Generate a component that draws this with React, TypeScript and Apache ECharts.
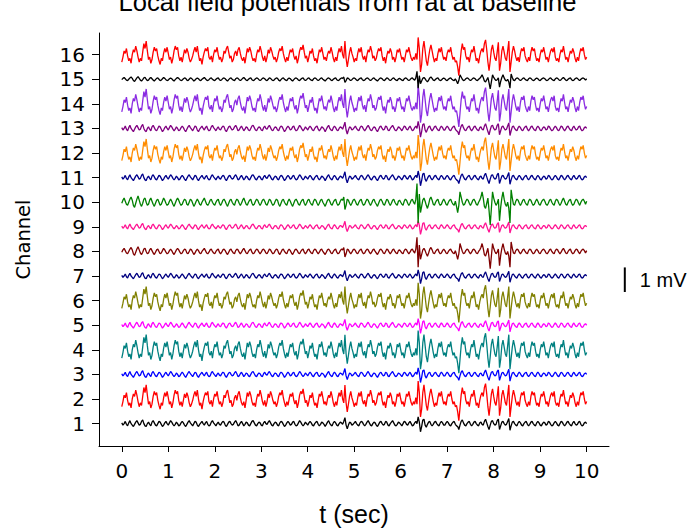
import React, { useEffect, useRef } from 'react';
import * as echarts from 'echarts';

// sampling: 40 samples per second, 0..10 s
const sampleRate = 40;

// hand-estimated waveforms (arbitrary units)
const bigWave = [
  -6,-2,3,1,5,-1,-5,-3,-7,0,4,2,7,3,-2,-6,-3,-5,2,9,5,11,3,-4,-2,-7,-4,2,6,3,5,-1,-5,-8,-3,-5,1,5,2,6,
  1,-4,-2,-7,-3,3,7,4,6,-1,-5,-2,-6,-1,4,1,5,2,-3,-6,-4,-1,3,6,2,7,0,-5,-3,-8,-2,2,5,3,6,-2,-4,-1,-6,0,
  4,2,6,0,-4,-2,-6,-3,3,1,5,7,2,-3,-1,-6,-4,1,3,-1,4,6,1,-3,-5,-2,-7,-1,5,2,6,3,-2,-5,-3,-6,0,4,2,7,
  3,-2,-5,-1,-6,-2,4,1,6,3,-1,-4,-2,-6,-3,2,5,3,7,1,-3,-6,-2,-5,0,4,2,5,-1,-4,-1,-7,-3,3,6,4,8,2,-3,-1,
  -6,-2,3,1,5,-1,-5,-3,-7,-1,4,2,6,1,-4,-2,-5,0,3,1,6,2,-3,-6,-2,-5,1,5,2,7,0,-3,11,-3,-10,-4,2,6,1,-2,
  -6,-3,-5,1,5,2,6,-1,-4,-1,-6,0,4,2,7,3,-3,-1,-5,-3,2,5,3,6,-1,-5,-2,-7,-1,3,1,5,2,-4,-2,-6,-2,4,2,5,
  0,-4,-2,-6,-1,4,2,6,1,-3,-5,-2,-4,1,-4,14,5,-14,-8,5,11,3,-5,-9,-2,4,8,3,-2,-6,-3,-5,1,5,2,6,0,-4,-2,-5,
  1,4,2,6,0,-4,-2,-6,-5,-10,-17,-7,3,9,4,6,-1,-4,-2,-6,0,4,2,7,1,-5,-3,-7,-1,3,5,2,9,12,4,-6,-13,-5,4,8,
  2,-3,-5,2,10,-13,-7,3,7,2,-3,-5,3,11,-14,-6,2,7,3,-2,-5,-2,-6,1,5,3,6,-1,-4,-6,-2,-5,2,6,3,5,-1,-5,-3,-6,
  0,4,2,6,1,-4,-2,-6,-1,3,5,2,6,-2,-5,-3,-6,0,4,2,7,1,-4,-2,-6,-1,3,1,5,2,-3,-6,-2,-5,1,5,3,6,0,-4,
  -2,
];

const smallWave = [
  1,-2,0,3,-1,-3,1,4,0,-2,-4,-1,2,4,1,-2,-1,3,5,0,-3,-4,0,2,-1,-3,2,4,1,-2,-3,0,3,2,-1,-4,-2,1,3,0,
  -2,1,4,2,-1,-3,-1,2,0,-3,-2,1,3,1,-2,-4,-1,2,4,1,-1,-3,0,3,2,-2,-4,-1,1,3,0,-2,1,3,-1,-3,-2,2,4,1,
  -1,-3,0,2,-1,-2,1,3,2,-2,-4,-1,2,3,0,-2,-1,2,4,1,-3,-2,1,3,0,-3,-1,2,1,-2,-3,0,3,4,1,-2,-3,0,2,1,
  -2,-3,1,3,0,-1,2,4,1,-2,-3,0,2,1,-2,-3,1,3,2,-1,-4,-2,1,3,1,-2,-1,2,3,-1,-3,-2,1,4,2,-1,-3,-1,2,0,
  -2,1,3,1,-2,-3,0,2,3,-1,-3,-1,2,1,-1,-4,-1,2,4,0,-2,-3,1,3,1,-2,-3,0,2,1,-1,3,8,-2,-7,-2,2,1,-2,-1,
  1,3,0,-2,-3,1,3,2,-1,-3,-1,2,4,1,-2,-3,0,2,1,-2,-4,-1,2,3,0,-2,-1,3,2,-2,-3,0,2,4,1,-2,-3,-1,2,1,
  -1,-3,0,3,2,-1,-2,1,3,0,-3,-2,1,3,0,9,2,-11,-4,5,6,-2,-5,-1,2,3,-1,-3,-1,2,3,0,-2,-3,1,3,1,-2,-2,1,
  3,1,-2,-3,0,2,3,-1,-3,-4,-8,-2,3,5,1,-2,-3,0,2,3,-1,-3,-1,2,3,0,-2,-3,1,2,-1,-2,3,6,1,-4,-8,-2,3,4,
  0,-2,-1,4,6,-8,-3,2,3,0,-2,-1,3,7,-9,-3,2,3,0,-2,-3,1,3,1,-2,-3,0,2,3,-1,-3,-1,2,3,0,-2,-3,1,3,1,
  -2,-3,0,2,1,-2,-1,3,2,-1,-3,-2,1,3,1,-2,-3,0,3,2,-1,-3,-1,2,3,0,-2,-3,1,3,0,-2,-1,2,3,-1,-3,-2,1,2,
  0,
];

const eventWave = [
  -1,2,4,1,-2,-3,0,3,5,2,-3,-5,-1,3,6,2,-2,-4,-1,3,4,0,-3,-2,2,4,1,-2,-4,-1,2,3,0,-3,-2,1,4,2,-1,-3,
  -2,1,3,1,-2,-4,-1,2,4,2,-1,-3,-2,1,3,2,-2,-3,0,3,2,-1,-4,-2,1,3,1,-2,-3,0,2,4,1,-2,-3,-1,2,3,0,-2,
  -3,0,2,3,-1,-3,-1,2,3,1,-2,-4,-1,2,3,0,-2,-3,1,3,2,-1,-3,-1,2,4,1,-2,-3,0,2,3,-1,-3,-2,1,3,2,-1,-3,
  -1,2,3,1,-2,-3,0,3,2,-1,-3,-2,1,3,2,-2,-4,-1,2,3,0,-2,-3,1,3,1,-2,-4,-1,2,3,1,-2,-3,0,2,3,-1,-3,-1,
  2,3,0,-2,-3,1,3,2,-1,-3,-1,2,3,0,-2,-4,-1,2,3,1,-2,-3,0,2,3,-1,-3,-2,1,3,2,5,-7,-3,3,2,-1,-3,-1,2,
  3,1,-2,-3,0,2,3,-1,-3,-2,1,3,2,-1,-3,-1,2,3,0,-2,-4,-1,2,3,1,-2,-3,0,3,2,-1,-3,-1,2,3,0,-2,-3,1,2,
  0,-2,-3,1,3,2,-1,-3,-1,2,3,0,-2,3,18,-20,8,-10,-4,2,4,1,-3,-6,-2,3,5,2,-2,-3,0,2,3,-1,-3,-2,1,3,1,-2,
  -3,0,2,3,0,-2,-3,1,-4,-10,-3,10,5,0,-3,-2,1,3,2,-1,-3,-1,2,3,1,-2,-3,0,2,5,10,4,-4,-6,-1,4,-8,-22,-6,10,
  4,0,-3,-1,3,-18,-5,4,10,3,-2,-4,0,-6,-20,12,4,-2,-3,1,3,2,-1,-3,-1,2,3,0,-2,-3,1,3,2,-1,-3,-2,1,3,1,-2,
  -3,0,2,3,1,-2,-3,-1,2,3,0,-2,-3,1,3,2,-1,-3,-1,2,4,1,-2,-3,0,2,3,-1,-3,-2,1,3,2,-1,-3,0,2,3,1,-2,
  1,
];

const channels = [1, 2, 3, 4, 5, 6, 7, 8, 9, 10, 11, 12, 13, 14, 15, 16];
const channelColors = [
  '#000000', '#ff0000', '#0000ff', '#008080', '#ff00ff', '#808000', '#000080', '#800000',
  '#ff1493', '#008000', '#00008b', '#ff8c00', '#800080', '#8a2be2', '#000000', '#ff0000',
];
const channelWave = [
  'small', 'big', 'small', 'big', 'small', 'big', 'small', 'event',
  'small', 'event', 'small', 'big', 'small', 'big', 'event', 'big',
];
// mV per waveform unit
const channelGain = [
  0.03, 0.052, 0.03, 0.056, 0.03, 0.052, 0.028, 0.032,
  0.028, 0.042, 0.03, 0.052, 0.032, 0.055, 0.018, 0.05,
];

const xTicks = [0, 1, 2, 3, 4, 5, 6, 7, 8, 9, 10];
const yTicks = channels;

// scale bar: 1 mV
const scaleBarX = 10.82;
const scaleBarFrom = 6.35;
const scaleBarTo = 7.35;
const scaleBarLabel = '1 mV';

const waves: Record<string, number[]> = { big: bigWave, small: smallWave, event: eventWave };

export default function App() {
  const ref = useRef<HTMLDivElement>(null);
  useEffect(() => {
    if (!ref.current) return;
    const chart = echarts.init(ref.current, undefined, { renderer: 'svg' });
    const font = 'Liberation Sans';
    const wide = 'DejaVu Sans';
    const traceSeries = channels.map((ch, i) => {
      const w = waves[channelWave[i]];
      return {
        type: 'line',
        name: 'ch' + ch,
        data: w.map((v, k) => [k / sampleRate, ch + channelGain[i] * v]),
        showSymbol: false,
        symbol: 'none',
        silent: true,
        lineStyle: { color: channelColors[i], width: 1.3 },
        itemStyle: { color: channelColors[i] },
        z: 2,
      };
    });
    chart.setOption({
      animation: false,
      backgroundColor: '#ffffff',
      title: {
        text: 'Local field potentials from rat at baseline',
        left: 'center',
        top: -16,
        textStyle: { fontFamily: font, fontSize: 25.6, fontWeight: 'normal', color: '#000' },
      },
      grid: { left: 99, right: 86, top: 33, bottom: 86, containLabel: false },
      xAxis: {
        type: 'value',
        min: -0.49,
        max: 10.48,
        name: 't (sec)',
        nameLocation: 'middle',
        nameGap: 55,
        nameTextStyle: { fontFamily: font, fontSize: 25, color: '#000' },
        axisLine: { show: true, onZero: false, lineStyle: { color: '#000', width: 1 } },
        axisTick: { show: true, length: 6, customValues: xTicks, lineStyle: { color: '#000' } },
        axisLabel: { customValues: xTicks, margin: 15, fontFamily: wide, fontSize: 20, color: '#000' },
        splitLine: { show: false },
      },
      yAxis: {
        type: 'value',
        min: 0.09,
        max: 16.88,
        name: 'Channel',
        nameLocation: 'middle',
        nameGap: 66,
        nameRotate: 90,
        nameTextStyle: { fontFamily: wide, fontSize: 19.5, color: '#000' },
        axisLine: { show: true, onZero: false, lineStyle: { color: '#000', width: 1 } },
        axisTick: { show: true, length: 7, customValues: yTicks, lineStyle: { color: '#000' } },
        axisLabel: { customValues: yTicks, margin: 14, fontFamily: wide, fontSize: 20, color: '#000' },
        splitLine: { show: false },
      },
      series: traceSeries,
    });
    const p1 = chart.convertToPixel({ gridIndex: 0 }, [scaleBarX, scaleBarFrom]) as number[];
    const p2 = chart.convertToPixel({ gridIndex: 0 }, [scaleBarX, scaleBarTo]) as number[];
    chart.setOption({
      graphic: [
        {
          type: 'line',
          silent: true,
          shape: { x1: p1[0], y1: p1[1], x2: p2[0], y2: p2[1] },
          style: { stroke: '#000', lineWidth: 2 },
        },
        {
          type: 'text',
          silent: true,
          x: p1[0] + 15,
          y: (p1[1] + p2[1]) / 2,
          style: {
            text: scaleBarLabel,
            fontFamily: font,
            fontSize: 20,
            fill: '#000',
            textVerticalAlign: 'middle',
            verticalAlign: 'middle',
          },
        },
      ],
    });
    return () => chart.dispose();
  }, []);
  return <div ref={ref} style={{ position: 'fixed', left: 0, top: 0, width: 695, height: 532 }} />;
}
